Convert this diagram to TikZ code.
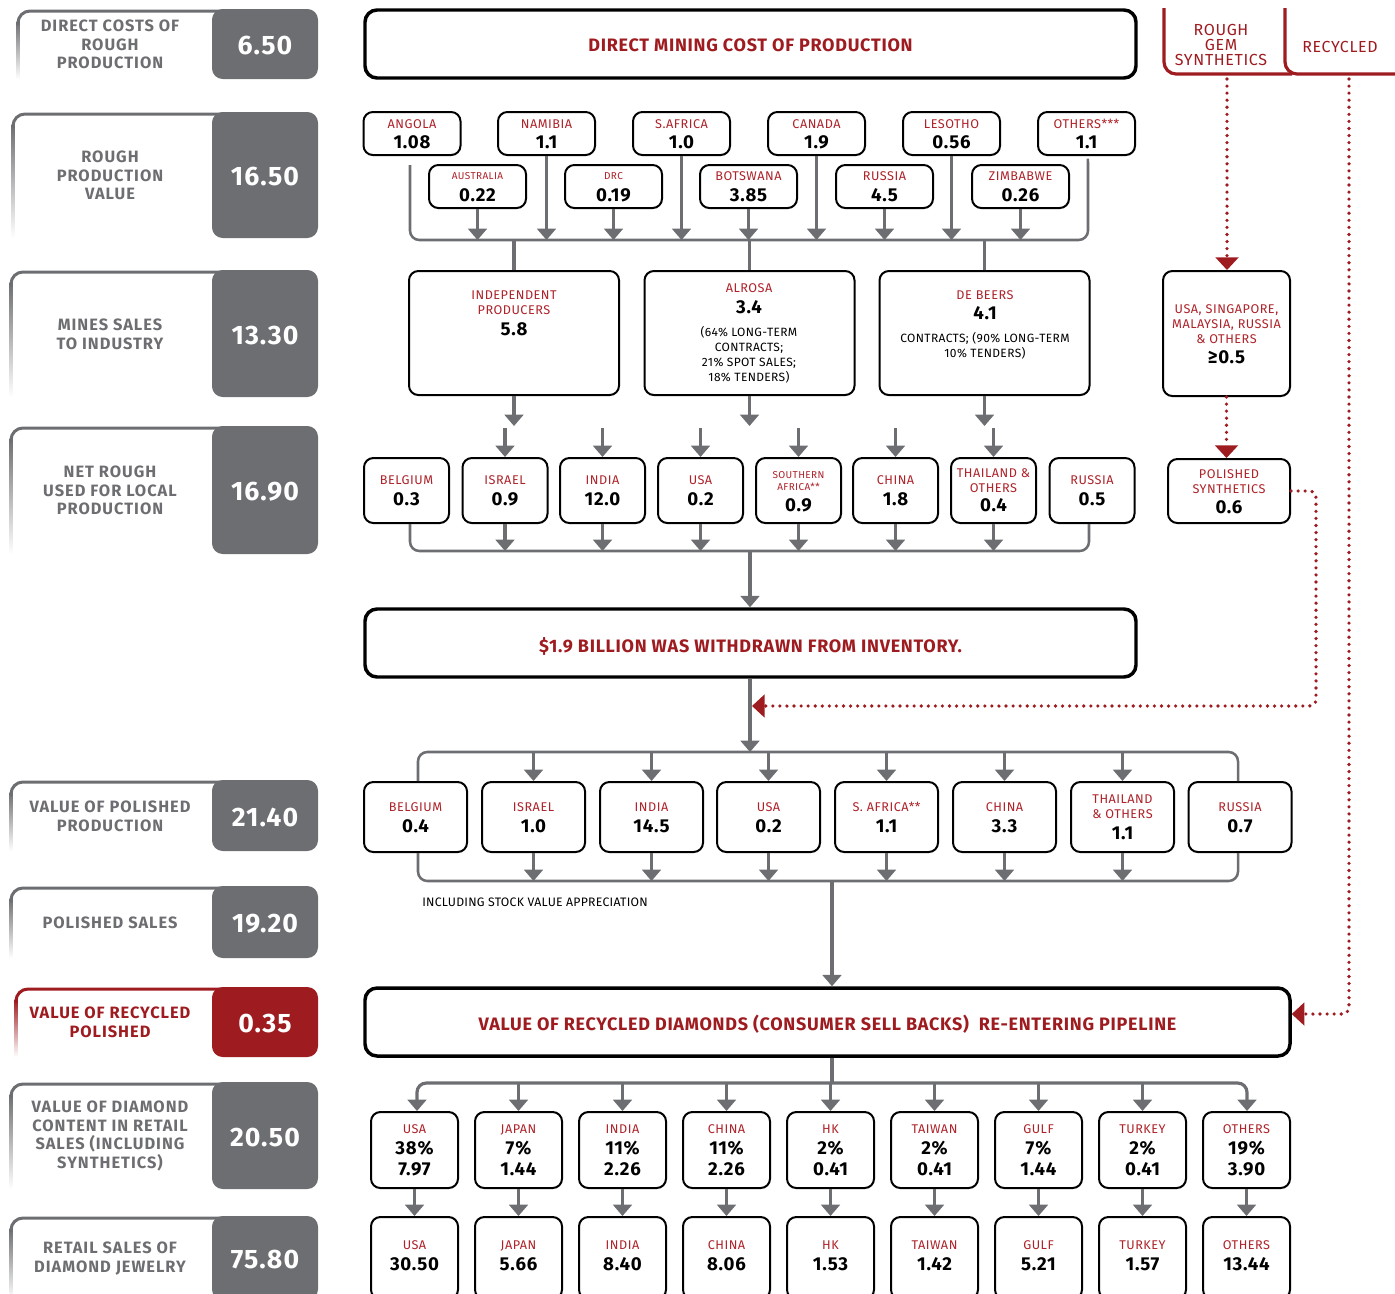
\documentclass[tikz,border=0pt]{standalone}
\usepackage{fontspec}
\setmainfont{Fira Sans}
\usetikzlibrary{arrows.meta}
\definecolor{dred}{HTML}{9E1B20}
\definecolor{lred}{HTML}{AE2229}
\definecolor{dgray}{HTML}{6D6E71}
\newcommand\lpanel[7]{%
  \fill[#4, rounded corners=8pt] (212,#1) rectangle (318,#2);
  \shade[top color=#4, bottom color=white] ({#3-1.5},{#1+12}) rectangle ({#3+1.5},#2);
  \draw[#4, line width=2.25pt, rounded corners=9pt] (#3,{#1+16}) -- (#3,{#1+2}) -- (222,{#1+2});
  \node[font=\fontsize{12.3}{14}\selectfont\bfseries\addfontfeatures{LetterSpace=6}, text=#4, align=center, inner sep=0pt] (#7l) at (110,{(#1+#2)/2+0.5}) {#5};
  \node[font=\fontsize{20}{22}\selectfont\bfseries\addfontfeatures{LetterSpace=4}, text=white, inner sep=0pt] (#7v) at (265,{(#1+#2)/2+2}) {#6};
}
\begin{document}
\begin{tikzpicture}[x=0.75pt,y=-0.75pt,
  bx/.style={draw=black, line width=1.5pt, rounded corners=7pt, fill=white, inner sep=0pt},
  bigbx/.style={draw=black, line width=2.6pt, rounded corners=9pt, fill=white, inner sep=0pt},
  bigtxt/.style={inner sep=0pt, text=dred, font=\fontsize{13.5}{15}\selectfont\bfseries\addfontfeatures{LetterSpace=4}},
  srcbox/.style={bx, minimum width=72.75pt, minimum height=32.25pt},
  prodbox/.style={bx, minimum width=157.5pt, minimum height=93pt},
  trbox/.style={bx, minimum width=63.75pt, minimum height=48.75pt},
  polbox/.style={bx, minimum width=77.25pt, minimum height=52.5pt},
  rtbox/.style={bx, minimum width=65.25pt, minimum height=57pt},
  lab/.style={text=lred, font=\fontsize{9.5}{11.2}\selectfont\addfontfeatures{LetterSpace=4}, inner sep=0pt, align=center},
  slab/.style={text=lred, font=\fontsize{7.5}{9}\selectfont\addfontfeatures{LetterSpace=4}, inner sep=0pt, align=center},
  note/.style={text=black, font=\fontsize{9}{11.2}\selectfont\addfontfeatures{LetterSpace=3}, inner sep=0pt, align=center},
  val/.style={text=black, font=\fontsize{14}{15}\selectfont\bfseries\addfontfeatures{LetterSpace=4}, inner sep=0pt},
  arr/.style={draw=dgray, line width=2.4pt, -{Triangle[width=14pt,length=8.5pt]}},
  ln/.style={draw=dgray, line width=2.4pt},
  barln/.style={draw=dgray, line width=1.9pt, rounded corners=7pt},
  dotln/.style={draw=dred, line width=2.7pt, line cap=round, dash pattern=on 0pt off 5.3pt},
  redarr/.style={dotln, -{Triangle[width=17pt,length=9.5pt,fill=dred]}},
]
\useasboundingbox (0,0) rectangle (1395,1293);

% ---------- left panels ----------
\lpanel{9}{79}{18}{dgray}{DIRECT COSTS OF\\ROUGH\\PRODUCTION}{6.50}{P1}
\lpanel{112}{238}{13}{dgray}{ROUGH\\PRODUCTION\\VALUE}{16.50}{P2}
\lpanel{270}{397}{11}{dgray}{MINES SALES\\TO INDUSTRY}{13.30}{P3}
\lpanel{426}{554}{11}{dgray}{NET ROUGH\\USED FOR LOCAL\\PRODUCTION}{16.90}{P4}
\lpanel{780}{851}{11}{dgray}{VALUE OF POLISHED\\PRODUCTION}{21.40}{P5}
\lpanel{886}{958}{11}{dgray}{POLISHED SALES}{19.20}{P6}
\lpanel{987}{1057}{16}{dred}{VALUE OF RECYCLED\\POLISHED}{0.35}{P7}
\lpanel{1082}{1189}{11}{dgray}{VALUE OF DIAMOND\\CONTENT IN RETAIL\\SALES (INCLUDING\\SYNTHETICS)}{20.50}{P8}
\lpanel{1216}{1300}{11}{dgray}{RETAIL SALES OF\\DIAMOND JEWELRY}{75.80}{P9}

% ---------- top header ----------
\node[bigbx, minimum width=578.25pt, minimum height=51pt] (dmc) at (750.5,44) {};
\node[bigtxt] (dmct) at (750.5,45.5) {DIRECT MINING COST OF PRODUCTION};

\draw[dred, line width=2.4pt, rounded corners=9pt] (1164,8) -- (1164,74) -- (1292,74);
\draw[dred, line width=2.4pt, rounded corners=9pt] (1285,8) -- (1285,74) -- (1400,74);
\node[text=dred, font=\fontsize{12}{11.3}\selectfont\addfontfeatures{LetterSpace=4}, align=center, inner sep=0pt] (hrgs) at (1221,45) {ROUGH\\GEM\\SYNTHETICS};
\node[text=dred, font=\fontsize{12}{11.3}\selectfont\addfontfeatures{LetterSpace=4}, inner sep=0pt] (hrec) at (1340,47) {RECYCLED};
\coordinate (rgs) at (1227,79);
\coordinate (rcyc) at (1349,79);

% ---------- source countries ----------
\foreach \n/\x/\l/\v in {A/412/ANGOLA/1.08, N/546.5/NAMIBIA/1.1, SA/681.5/S.AFRICA/1.0, C/816.5/CANADA/1.9, L/951.5/LESOTHO/0.56, O/1086.5/OTHERS***/1.1}{
  \node[srcbox] (s\n) at (\x,133.5) {};
  \node[lab] (s\n l) at (\x,124) {\l};
  \node[val] (s\n v) at (\x,142.5) {\v};
}
\foreach \n/\x/\l/\v in {B/748.5/BOTSWANA/3.85, R/884.5/RUSSIA/4.5, Z/1020.5/ZIMBABWE/0.26}{
  \node[srcbox] (s\n) at (\x,186.5) {};
  \node[lab] (s\n l) at (\x,176) {\l};
  \node[val] (s\n v) at (\x,195.5) {\v};
}
\foreach \n/\x/\l/\v in {AU/477.5/AUSTRALIA/0.22, D/613.5/DRC/0.19}{
  \node[srcbox] (s\n) at (\x,186.5) {};
  \node[slab] (s\n l) at (\x,176) {\l};
  \node[val] (s\n v) at (\x,195.5) {\v};
}
\coordinate (b1L) at (410,240);
\coordinate (b1R) at (1088,240);
\draw[barln] (sA.south) ++(-2,9) -- (b1L) -- (b1R) -- ([xshift=1.1pt,yshift=-2pt]sO.south);
\foreach \n in {AU,N,D,SA,B,C,R,L,Z}{
  \draw[arr] (s\n.south) -- (s\n.south |- b1L);
}

% ---------- producers ----------
\node[prodbox] (pI) at (514,333) {};
\node[lab] (pIl) at (514,302.5) {INDEPENDENT\\PRODUCERS};
\node[val] (pIv) at (514,329) {5.8};
\node[prodbox] (pA) at (749.5,333) {};
\node[lab] (pAl) at (749,288) {ALROSA};
\node[val] (pAv) at (749,307) {3.4};
\node[note] (pAn) at (749,354.5) {(64\% LONG-TERM\\CONTRACTS;\\21\% SPOT SALES;\\18\% TENDERS)};
\node[prodbox] (pD) at (984.5,333) {};
\node[lab] (pDl) at (985,295) {DE BEERS};
\node[val] (pDv) at (985,313) {4.1};
\node[note] (pDn) at (985,345.5) {CONTRACTS; (90\% LONG-TERM\\10\% TENDERS)};
\foreach \n in {I,A,D}{
  \draw[ln] (b1L -| p\n.north) -- (p\n.north);
  \draw[arr] (p\n.south) -- ++(0,30);
}

% ---------- rough trading centres ----------
\foreach \n/\x/\l/\v in {BE/406.5/BELGIUM/0.3, IS/505/ISRAEL/0.9, IN/602.5/INDIA/12.0, US/700.5/USA/0.2, CN/895.5/CHINA/1.8, RU/1092/RUSSIA/0.5}{
  \node[trbox] (t\n) at (\x,490.5) {};
  \node[lab] (t\n l) at (\x,480) {\l};
  \node[val] (t\n v) at (\x,499.5) {\v};
}
\node[trbox] (tSA) at (798.5,490.5) {};
\node[slab] (tSAl) at (798.5,481) {SOUTHERN\\AFRICA**};
\node[val] (tSAv) at (798.5,505) {0.9};
\node[trbox] (tTH) at (993.5,490.5) {};
\node[lab] (tTHl) at (993.5,480.5) {THAILAND \&\\OTHERS};
\node[val] (tTHv) at (993.5,505) {0.4};
\foreach \n in {IS,IN,US,SA,CN,TH}{
  \draw[arr] (t\n.north) ++(0,-29) -- (t\n.north);
}
\coordinate (b2L) at (410,551);
\coordinate (b2R) at (1089,551);
\coordinate (b2M) at (750,551);
\draw[barln] (tBE.south -| b2L) -- (b2L) -- (b2R) -- (tRU.south -| b2R);
\foreach \n in {IS,IN,US,SA,CN,TH}{
  \draw[arr] (t\n.south) -- (t\n.south |- b2L);
}

% ---------- inventory ----------
\node[bigbx, minimum width=578.25pt, minimum height=51pt] (wd) at (750.5,643) {};
\node[bigtxt] (wdt) at (750.5,646) {\$1.9 BILLION WAS WITHDRAWN FROM INVENTORY.};
\draw[arr] (b2M) -- (b2M |- wd.north);
\coordinate (b3L) at (418,752);
\coordinate (b3R) at (1238,752);
\coordinate (b3M) at (750,752);
\coordinate (inj) at (752,706);
\draw[arr] (b3M |- wd.south) -- (b3M);

% ---------- synthetics ----------
\node[bx, minimum width=95.25pt, minimum height=93.75pt] (sy1) at (1226.5,333.5) {};
\node[lab] (sy1l) at (1226.5,324.5) {USA, SINGAPORE,\\MALAYSIA, RUSSIA\\\& OTHERS};
\node[val] (sy1v) at (1226.5,357.5) {≥0.5};
\node[bx, minimum width=91.5pt, minimum height=48pt] (sy2) at (1229,491) {};
\node[lab] (sy2l) at (1229,481.5) {POLISHED\\SYNTHETICS};
\node[val] (sy2v) at (1229,507.5) {0.6};
\draw[redarr] (rgs) -- (rgs |- sy1.north);
\draw[redarr] (sy1.south) -- (sy1.south |- sy2.north);
\draw[redarr, rounded corners=5pt] (sy2.east) -- (1316,491) -- (1316,706) -- (inj);

% ---------- polished centres ----------
\foreach \n/\x/\l/\v in {BE/415.5/BELGIUM/0.4, IS/533.5/ISRAEL/1.0, IN/651.5/INDIA/14.5, US/768.5/USA/0.2, SA/886.5/S. AFRICA**/1.1, CN/1004.5/CHINA/3.3, RU/1240/RUSSIA/0.7}{
  \node[polbox] (q\n) at (\x,817) {};
  \node[lab] (q\n l) at (\x,807) {\l};
  \node[val] (q\n v) at (\x,826.5) {\v};
}
\node[polbox] (qTH) at (1122.5,817) {};
\node[lab] (qTHl) at (1122.5,806.5) {THAILAND\\\& OTHERS};
\node[val] (qTHv) at (1122.5,833) {1.1};
\draw[barln] (qBE.north -| b3L) -- (b3L) -- (b3R) -- (qRU.north -| b3R);
\foreach \n in {IS,IN,US,SA,CN,TH}{
  \draw[arr] (b3L -| q\n.north) -- (q\n.north);
}
\coordinate (b4L) at (418,881);
\coordinate (b4R) at (1238,881);
\coordinate (b4M) at (832,881);
\draw[barln] (qBE.south -| b4L) -- (b4L) -- (b4R) -- (qRU.south -| b4R);
\foreach \n in {IS,IN,US,SA,CN,TH}{
  \draw[arr] (q\n.south) -- (q\n.south |- b4L);
}
\node[note, anchor=west, font=\fontsize{9.2}{11}\selectfont\addfontfeatures{LetterSpace=2}] (stock) at (422,902) {INCLUDING STOCK VALUE APPRECIATION};

% ---------- recycled ----------
\node[bigbx, minimum width=693.75pt, minimum height=51pt] (rcy) at (827.5,1022) {};
\node[bigtxt] (rcyt) at (827.5,1024.5) {VALUE OF RECYCLED DIAMONDS (CONSUMER SELL BACKS)\ \ RE-ENTERING PIPELINE};
\draw[arr] (b4M) -- (b4M |- rcy.north);
\draw[redarr, rounded corners=5pt] (rcyc) -- (1349,1014) -- ([yshift=6pt]rcy.east);

% ---------- retail ----------
\coordinate (b5L) at (417,1083);
\coordinate (b5R) at (1247,1083);
\coordinate (b5M) at (832,1083);
\draw[ln] (b5M |- rcy.south) -- (b5M);
\foreach \n/\x/\l/\p/\v in {US/414.5/USA/38\%/7.97, JP/518.5/JAPAN/7\%/1.44, IN/622.5/INDIA/11\%/2.26, CN/726.5/CHINA/11\%/2.26, HK/830.5/HK/2\%/0.41, TW/934.5/TAIWAN/2\%/0.41, GU/1038.5/GULF/7\%/1.44, TU/1142.5/TURKEY/2\%/0.41, OT/1246.5/OTHERS/19\%/3.90}{
  \node[rtbox] (c\n) at (\x,1150) {};
  \node[lab] (c\n l) at (\x,1129.5) {\l};
  \node[val] (c\n p) at (\x,1148.5) {\p};
  \node[val] (c\n v) at (\x,1169.5) {\v};
}
\foreach \n/\x/\l/\v in {US/414.5/USA/30.50, JP/518.5/JAPAN/5.66, IN/622.5/INDIA/8.40, CN/726.5/CHINA/8.06, HK/830.5/HK/1.53, TW/934.5/TAIWAN/1.42, GU/1038.5/GULF/5.21, TU/1142.5/TURKEY/1.57, OT/1246.5/OTHERS/13.44}{
  \node[bx, minimum width=65.25pt, minimum height=61.5pt] (r\n) at (\x,1258) {};
  \node[lab] (r\n l) at (\x,1245.5) {\l};
  \node[val] (r\n v) at (\x,1264.5) {\v};
  \draw[arr] (c\n.south) -- (r\n.north);
}
\draw[arr, rounded corners=7pt] (b5M) -- (b5L) -- (b5L |- cUS.north);
\draw[arr, rounded corners=7pt] (b5M) -- (b5R) -- (b5R |- cOT.north);
\foreach \n in {JP,IN,CN,HK,TW,GU,TU}{
  \draw[arr] (b5L -| c\n.north) -- (c\n.north);
}
\end{tikzpicture}
\end{document}
